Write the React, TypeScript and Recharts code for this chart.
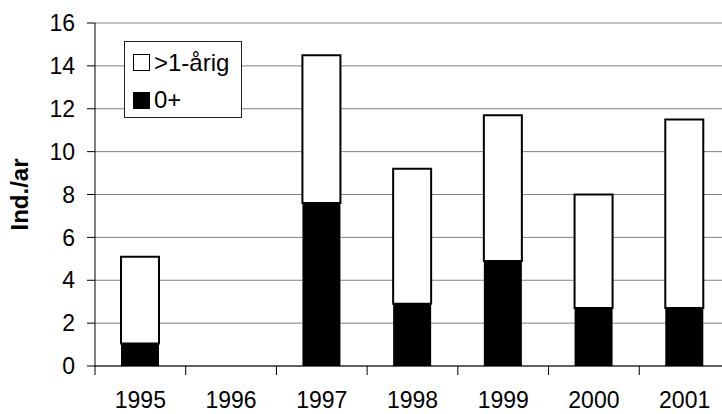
import { BarChart, Bar, XAxis, YAxis, CartesianGrid, Legend, Label } from 'recharts'

const years = ['1995', '1996', '1997', '1998', '1999', '2000', '2001']
const youngValues = [1.05, 0, 7.6, 2.9, 4.9, 2.7, 2.7]
const olderValues = [4.05, 0, 6.9, 6.3, 6.8, 5.3, 8.8]
const yTicks = [0, 2, 4, 6, 8, 10, 12, 14, 16]

const data = years.map((year, i) => ({
  year,
  young: youngValues[i],
  older: olderValues[i],
}))

const FONT = '"Liberation Sans", Arial, sans-serif'
const CHART_W = 740
const MARGIN = { top: 23, right: 10, left: 0, bottom: 8 }
const Y_AXIS_W = 95
const BAND = (CHART_W - MARGIN.right - MARGIN.left - Y_AXIS_W) / years.length

function YearTick(props: any) {
  const { x, y, payload } = props
  const edge = x - BAND / 2
  return (
    <g>
      <line x1={edge} y1={y} x2={edge} y2={y + 9} stroke="#000" strokeWidth={1} />
      <text x={x} y={y + 42} textAnchor="middle" fill="#000" fontSize={23} fontFamily={FONT}>
        {payload.value}
      </text>
    </g>
  )
}

function LegendBox() {
  const row = (fill: string, text: string, h: number) => (
    <div style={{ display: 'flex', alignItems: 'center', height: h }}>
      <span
        style={{
          display: 'inline-block',
          width: 15,
          height: 15,
          background: fill,
          border: '1.5px solid #000',
          marginRight: 4,
          flexShrink: 0,
        }}
      />
      <span style={{ fontSize: 24, color: '#000', lineHeight: 1, whiteSpace: 'nowrap' }}>{text}</span>
    </div>
  )
  return (
    <div
      style={{
        fontFamily: FONT,
        border: '1px solid #222',
        background: '#fff',
        padding: '2px 0 0 8px',
        width: 108,
        height: 73,
        boxSizing: 'content-box',
      }}
    >
      {row('#fff', '>1-årig', 37)}
      {row('#000', '0+', 38)}
    </div>
  )
}

export default function App() {
  return (
    <div style={{ position: 'fixed', left: 0, top: 0, width: 722, height: 414, overflow: 'hidden', background: '#fff' }}>
      <BarChart width={CHART_W} height={414} data={data} margin={MARGIN}>
        <CartesianGrid horizontal vertical={false} stroke="#808080" strokeWidth={1} />
        <XAxis
          dataKey="year"
          height={40}
          axisLine={{ stroke: '#000', strokeWidth: 1 }}
          tickLine={false}
          tick={<YearTick />}
          tickSize={0}
          tickMargin={0}
          interval={0}
        />
        <YAxis
          width={Y_AXIS_W}
          domain={[0, 16]}
          ticks={yTicks}
          interval={0}
          axisLine={{ stroke: '#000', strokeWidth: 1 }}
          tickLine={{ stroke: '#000', strokeWidth: 1 }}
          tickSize={8}
          tickMargin={12}
          tick={{ fill: '#000', fontSize: 23, fontFamily: FONT }}
        >
          <Label
            content={({ viewBox }: any) => {
              const cx = 19
              const cy = viewBox.y + viewBox.height / 2
              return (
                <text
                  x={cx}
                  y={cy}
                  transform={`rotate(-90 ${cx} ${cy})`}
                  textAnchor="middle"
                  dominantBaseline="central"
                  fontSize={24}
                  fontWeight="bold"
                  fontFamily={FONT}
                  fill="#000"
                >
                  Ind./ar
                </text>
              )
            }}
          />
        </YAxis>
        <Legend
          layout="vertical"
          align="center"
          verticalAlign="middle"
          content={<LegendBox />}
          wrapperStyle={{ left: 124, top: 41, width: 117, height: 76 }}
        />
        <Bar dataKey="young" name="0+" stackId="a" fill="#000" barSize={38} isAnimationActive={false} />
        <Bar
          dataKey="older"
          name=">1-årig"
          stackId="a"
          fill="#fff"
          stroke="#000"
          strokeWidth={2}
          barSize={38}
          isAnimationActive={false}
        />
      </BarChart>
    </div>
  )
}
